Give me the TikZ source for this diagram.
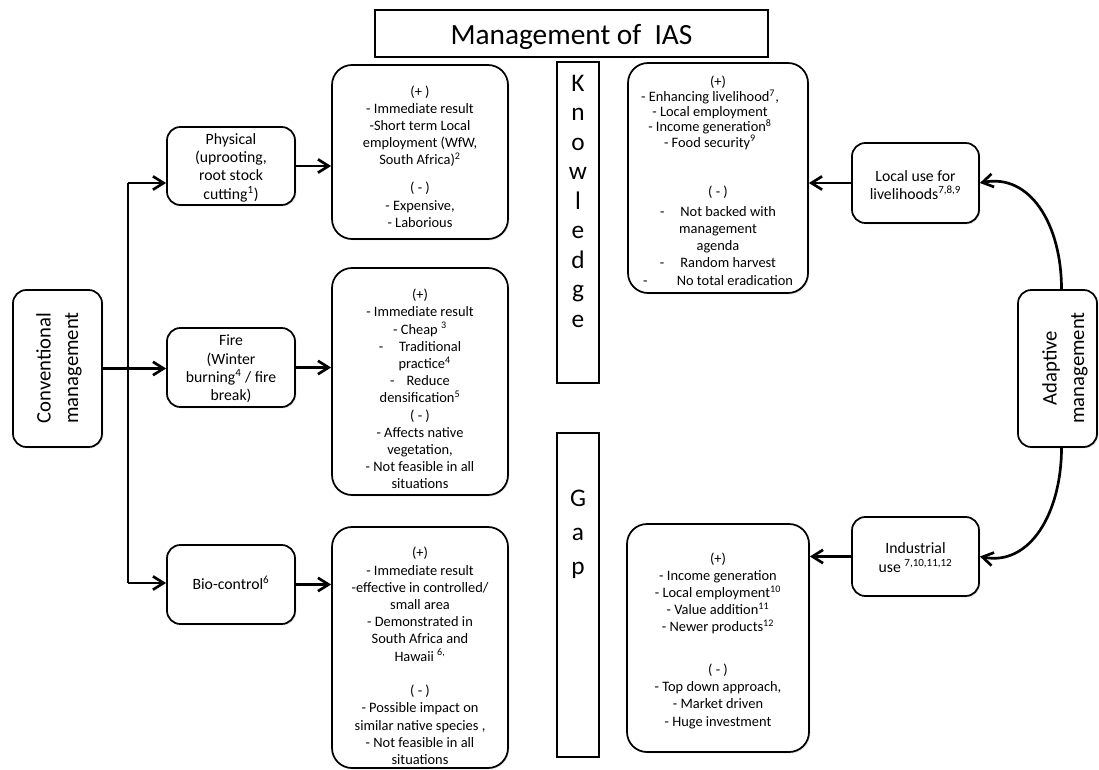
\documentclass[tikz,border=0pt]{standalone}
\usepackage{fontspec}
\setmainfont{Carlito}
\usetikzlibrary{arrows.meta,shadows}

\tikzset{
  sz/.style 2 args={minimum width=#1*0.75pt, minimum height=#2*0.75pt},
  boxframe/.style={draw, line width=1.3pt, fill=white, inner sep=0pt,
    drop shadow={shadow xshift=1pt, shadow yshift=-1pt, opacity=0.22}},
  smallbox/.style={boxframe, rounded corners=10pt},
  listbox/.style={boxframe, rounded corners=15pt},
  letterbox/.style={boxframe, line width=1pt},
  smalltext/.style={align=center, font=\fontsize{11.8}{13.7}\selectfont, inner sep=0pt},
  listtext/.style={align=center, font=\fontsize{10.8}{12.9}\selectfont, inner sep=0pt},
  bigtext/.style={align=center, font=\fontsize{15.5}{20.5}\selectfont, inner sep=0pt, rotate=90},
  lettertext/.style={align=center, font=\fontsize{19}{22.1}\selectfont, inner sep=0pt},
  link/.style={line width=2pt},
  arr/.style={link, -{Straight Barb[length=8pt,width=10pt]}},
}

\begin{document}
\begin{tikzpicture}[x=0.75pt, y=-0.75pt]
\useasboundingbox (0,0) rectangle (1099,770);

% title
\node[boxframe, line width=1pt, sz={393}{47}] (title) at (571.5,33.5) {};
\node[font=\fontsize{22}{26}\selectfont, inner sep=0pt, anchor=base] (titlet) at (571.5,45) {Management of\ \ IAS};

% conventional management and its three branches
\node[smallbox, sz={89}{157}] (conv) at (57.5,368.5) {};
\node[bigtext] (convt) at (59,368) {Conventional\\management};

\node[smallbox, sz={128}{78}] (phys) at (231,166) {};
\node[smalltext] (physt) at (231,167.5) {Physical\\(uprooting,\\root stock\\cutting\textsuperscript{1})};
\node[smallbox, sz={128}{79}] (fire) at (231,367.5) {};
\node[smalltext] (firet) at (231,369) {Fire\\(Winter\\burning\textsuperscript{4} / fire\\break)};
\node[smallbox, sz={128}{79}] (bio) at (231,584.5) {};
\node[smalltext, anchor=base] (biot) at (231,589) {Bio-control\textsuperscript{6}};

% pros and cons of conventional methods
\node[listbox, sz={176}{174}] (pb) at (420,152) {};
\node[listtext] (pbt) at (420,156.5) {(+ )\\- Immediate result\\-Short term Local\\employment (WfW,\\South Africa)\textsuperscript{2}\\[8pt]( - )\\- Expensive,\\- Laborious};

\node[listbox, sz={176}{227}] (fb) at (420,381.5) {};
\node[listtext] (fbt) at (420,389) {(+)\\- Immediate result\\- Cheap \textsuperscript{3}\\-\hspace{12pt}Traditional\\\hspace{7pt}practice\textsuperscript{4}\\-\hspace{9pt}Reduce\\densification\textsuperscript{5}\\( - )\\- Affects native\\vegetation,\\- Not feasible in all\\situations};

\node[listbox, sz={176}{241}] (bb) at (420,647.5) {};
\node[listtext] (bbt) at (420,656) {(+)\\- Immediate result\\-effective in controlled/\\small area\\- Demonstrated in\\South Africa and\\Hawaii \textsuperscript{6,}\\[13pt]( - )\\- Possible impact on\\similar native species ,\\- Not feasible in all\\situations};

% knowledge gap columns
\node[letterbox, sz={42}{321}] (kn) at (578,222.5) {};
\node[lettertext, anchor=north] (knt) at (578,75) {K\\n\\o\\w\\l\\e\\d\\g\\e};
\node[letterbox, sz={42}{324}] (gp) at (578,595) {};
\node[lettertext, font=\fontsize{19}{25.5}\selectfont, anchor=north] (gpt) at (578,490) {G\\a\\p};

% pros and cons of adaptive uses
\node[listbox, sz={180}{230}] (lb) at (718,178) {};
\node[listtext] (lbt) at (718,180.5) {(+)\\[-1.5pt]- Enhancing livelihood\textsuperscript{7},\kern12pt\\[-1.5pt]- Local employment\kern12pt\\[-1.5pt]- Income generation\textsuperscript{8}\kern12pt\\[-1.5pt]- Food security\textsuperscript{9}\kern12pt\\[24pt]( - )\\[2pt]-\hspace{12pt}Not backed with\\management\\agenda\\-\hspace{12pt}Random harvest\\-\hspace{22pt}No total eradication};

\node[listbox, sz={182}{228}] (ib) at (718,638) {};
\node[listtext] (ibt) at (718,640.5) {(+)\\- Income generation\\- Local employment\textsuperscript{10}\\- Value addition\textsuperscript{11}\\- Newer products\textsuperscript{12}\\[19pt]( - )\\- Top down approach,\\- Market driven\\- Huge investment};

% adaptive management and its two uses
\node[smallbox, sz={127}{80}] (lu) at (915.5,183) {};
\node[smalltext] (lut) at (915.5,185) {Local use for\\livelihoods\textsuperscript{7,8,9}};
\node[smallbox, sz={127}{79}] (iu) at (915.5,556.5) {};
\node[smalltext] (iut) at (915.5,557.5) {Industrial\\use \textsuperscript{7,10,11,12}};
\node[smallbox, sz={79}{157}] (am) at (1057.5,368.5) {};
\node[bigtext] (amt) at (1065,368) {Adaptive\\management};

% connectors on the left
\coordinate (jt) at (128,183);
\coordinate (jb) at (128,583);
\draw[link] (jt) -- (jb);
\draw[arr] (jt) -- (jt -| phys.west);
\draw[arr] (conv.east) -- (conv.east -| fire.west);
\draw[arr] (jb) -- (jb -| bio.west);
\draw[arr] (phys.east) -- (phys.east -| pb.west);
\draw[arr] (fire.east) -- (fire.east -| fb.west);
\draw[arr] (bio.east) -- (bio.east -| bb.west);

% connectors on the right
\draw[arr] (lu.west) -- (lu.west -| lb.east);
\draw[arr] (iu.west) -- (iu.west -| ib.east);
\draw[arr] ([xshift=3pt]am.north) .. controls +(0,-65) and +(50,-10) .. (lu.east);
\draw[arr] ([xshift=3pt]am.south) .. controls +(0,65) and +(50,10) .. (iu.east);
\end{tikzpicture}
\end{document}
